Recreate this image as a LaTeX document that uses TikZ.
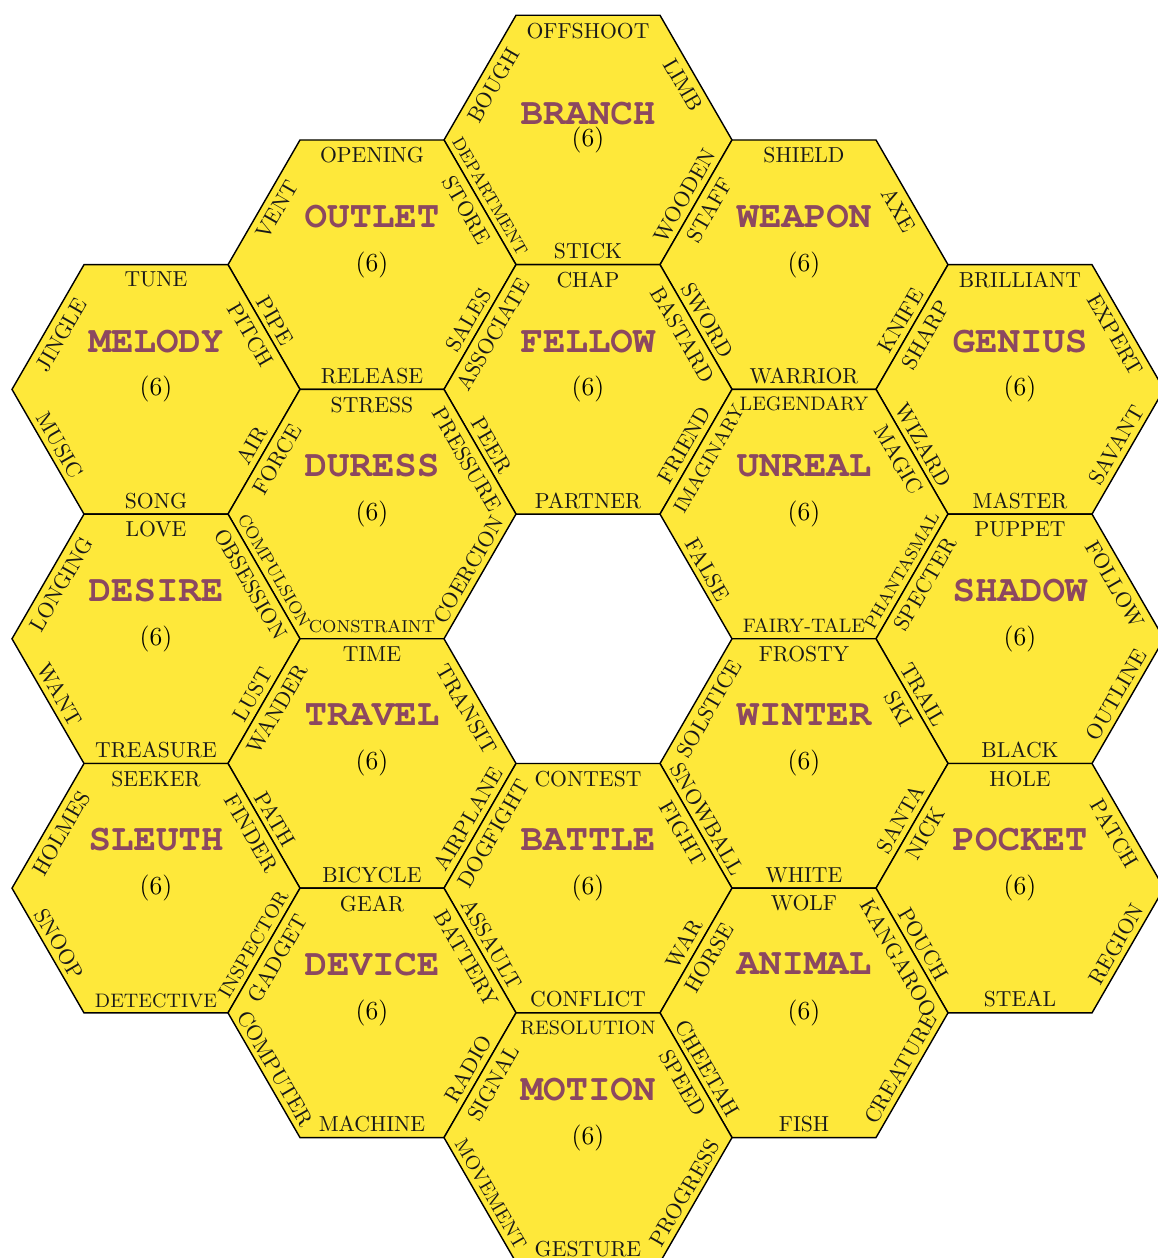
\documentclass[tikz,border=0pt]{standalone}
\usepackage[T1,TU]{fontenc}
\definecolor{hexyellow}{RGB}{254,232,58}
\definecolor{hexmauve}{RGB}{140,72,96}

\begin{document}
\begin{tikzpicture}[x=0.461pt,y=0.461pt,
  hexcell/.style={draw=black,line width=0.65pt,fill=hexyellow},
  hexword/.style={inner sep=0pt,text=black!90},
  hextitle/.style={text=hexmauve,font=\LARGE\fontencoding{T1}\fontfamily{pcr}\fontseries{b}\selectfont},
  hexcount/.style={font=\large}]
  \useasboundingbox (0,0) rectangle (1158,1258);
  % celdas: columna/fila/nombre/titulo/desplazamiento del titulo/lados T,UR,LR,B,LL,UL
  \foreach \col/\row/\nm/\ttl/\dy/\wT/\wUR/\wLR/\wB/\wLL/\wUL in {
    0/0/branch/BRANCH/26/OFFSHOOT/LIMB/WOODEN/STICK/{\footnotesize DEPARTMENT}/BOUGH,
    -1/1/outlet/OUTLET/48/OPENING/STORE/SALES/RELEASE/PIPE/VENT,
    1/1/weapon/WEAPON/48/SHIELD/AXE/KNIFE/WARRIOR/SWORD/STAFF,
    -2/2/melody/MELODY/48/TUNE/PITCH/AIR/SONG/MUSIC/JINGLE,
    0/2/fellow/FELLOW/48/CHAP/BASTARD/FRIEND/PARTNER/PEER/ASSOCIATE,
    2/2/genius/GENIUS/48/BRILLIANT/EXPERT/SAVANT/MASTER/WIZARD/SHARP,
    -1/3/duress/DURESS/48/STRESS/PRESSURE/COERCION/{\footnotesize CONSTRAINT}/{\footnotesize COMPULSION}/FORCE,
    1/3/unreal/UNREAL/48/{\small LEGENDARY}/MAGIC/{\footnotesize PHANTASMAL}/{\small FAIRY-TALE}/FALSE/{\small IMAGINARY},
    -2/4/desire/DESIRE/48/LOVE/OBSESSION/LUST/TREASURE/WANT/LONGING,
    2/4/shadow/SHADOW/48/PUPPET/FOLLOW/OUTLINE/BLACK/TRAIL/SPECTER,
    -1/5/travel/TRAVEL/48/TIME/TRANSIT/AIRPLANE/BICYCLE/PATH/WANDER,
    1/5/winter/WINTER/48/FROSTY/SKI/SANTA/WHITE/SNOWBALL/SOLSTICE,
    -2/6/sleuth/SLEUTH/48/SEEKER/FINDER/{\small INSPECTOR}/{\small DETECTIVE}/SNOOP/HOLMES,
    0/6/battle/BATTLE/48/CONTEST/FIGHT/WAR/CONFLICT/ASSAULT/DOGFIGHT,
    2/6/pocket/POCKET/48/HOLE/PATCH/REGION/STEAL/POUCH/NICK,
    -1/7/device/DEVICE/48/GEAR/BATTERY/RADIO/MACHINE/COMPUTER/GADGET,
    1/7/animal/ANIMAL/48/WOLF/KANGAROO/CREATURE/FISH/CHEETAH/HORSE,
    0/8/motion/MOTION/48/{\small RESOLUTION}/SPEED/PROGRESS/GESTURE/{\small MOVEMENT}/SIGNAL}{
    \pgfmathsetmacro{\cx}{588+216*\col}
    \pgfmathsetmacro{\cy}{1118-124.7*\row}
    \draw[hexcell] (\cx+144,\cy) -- ++(120:144) -- ++(180:144) -- ++(240:144)
      -- ++(300:144) -- ++(0:144) -- cycle;
    \node[hextitle] (\nm) at (\cx,\cy+\dy) {\ttl};
    \node[hexcount] (\nm-n) at (\cx,\cy) {(6)};
    \foreach \word/\ang/\rot/\anc/\off [count=\ei] in {\wT/90/0/north/7,\wUR/30/-60/north/7,
        \wLR/-30/60/south/5,\wB/-90/0/south/5,\wLL/-150/-60/south/5,\wUL/150/60/north/7}
      \node[hexword,rotate=\rot,anchor=\anc] (\nm-\ei)
        at ({\cx+(124.7-\off)*cos(\ang)},{\cy+(124.7-\off)*sin(\ang)}) {\word};
  }
\end{tikzpicture}
\end{document}
